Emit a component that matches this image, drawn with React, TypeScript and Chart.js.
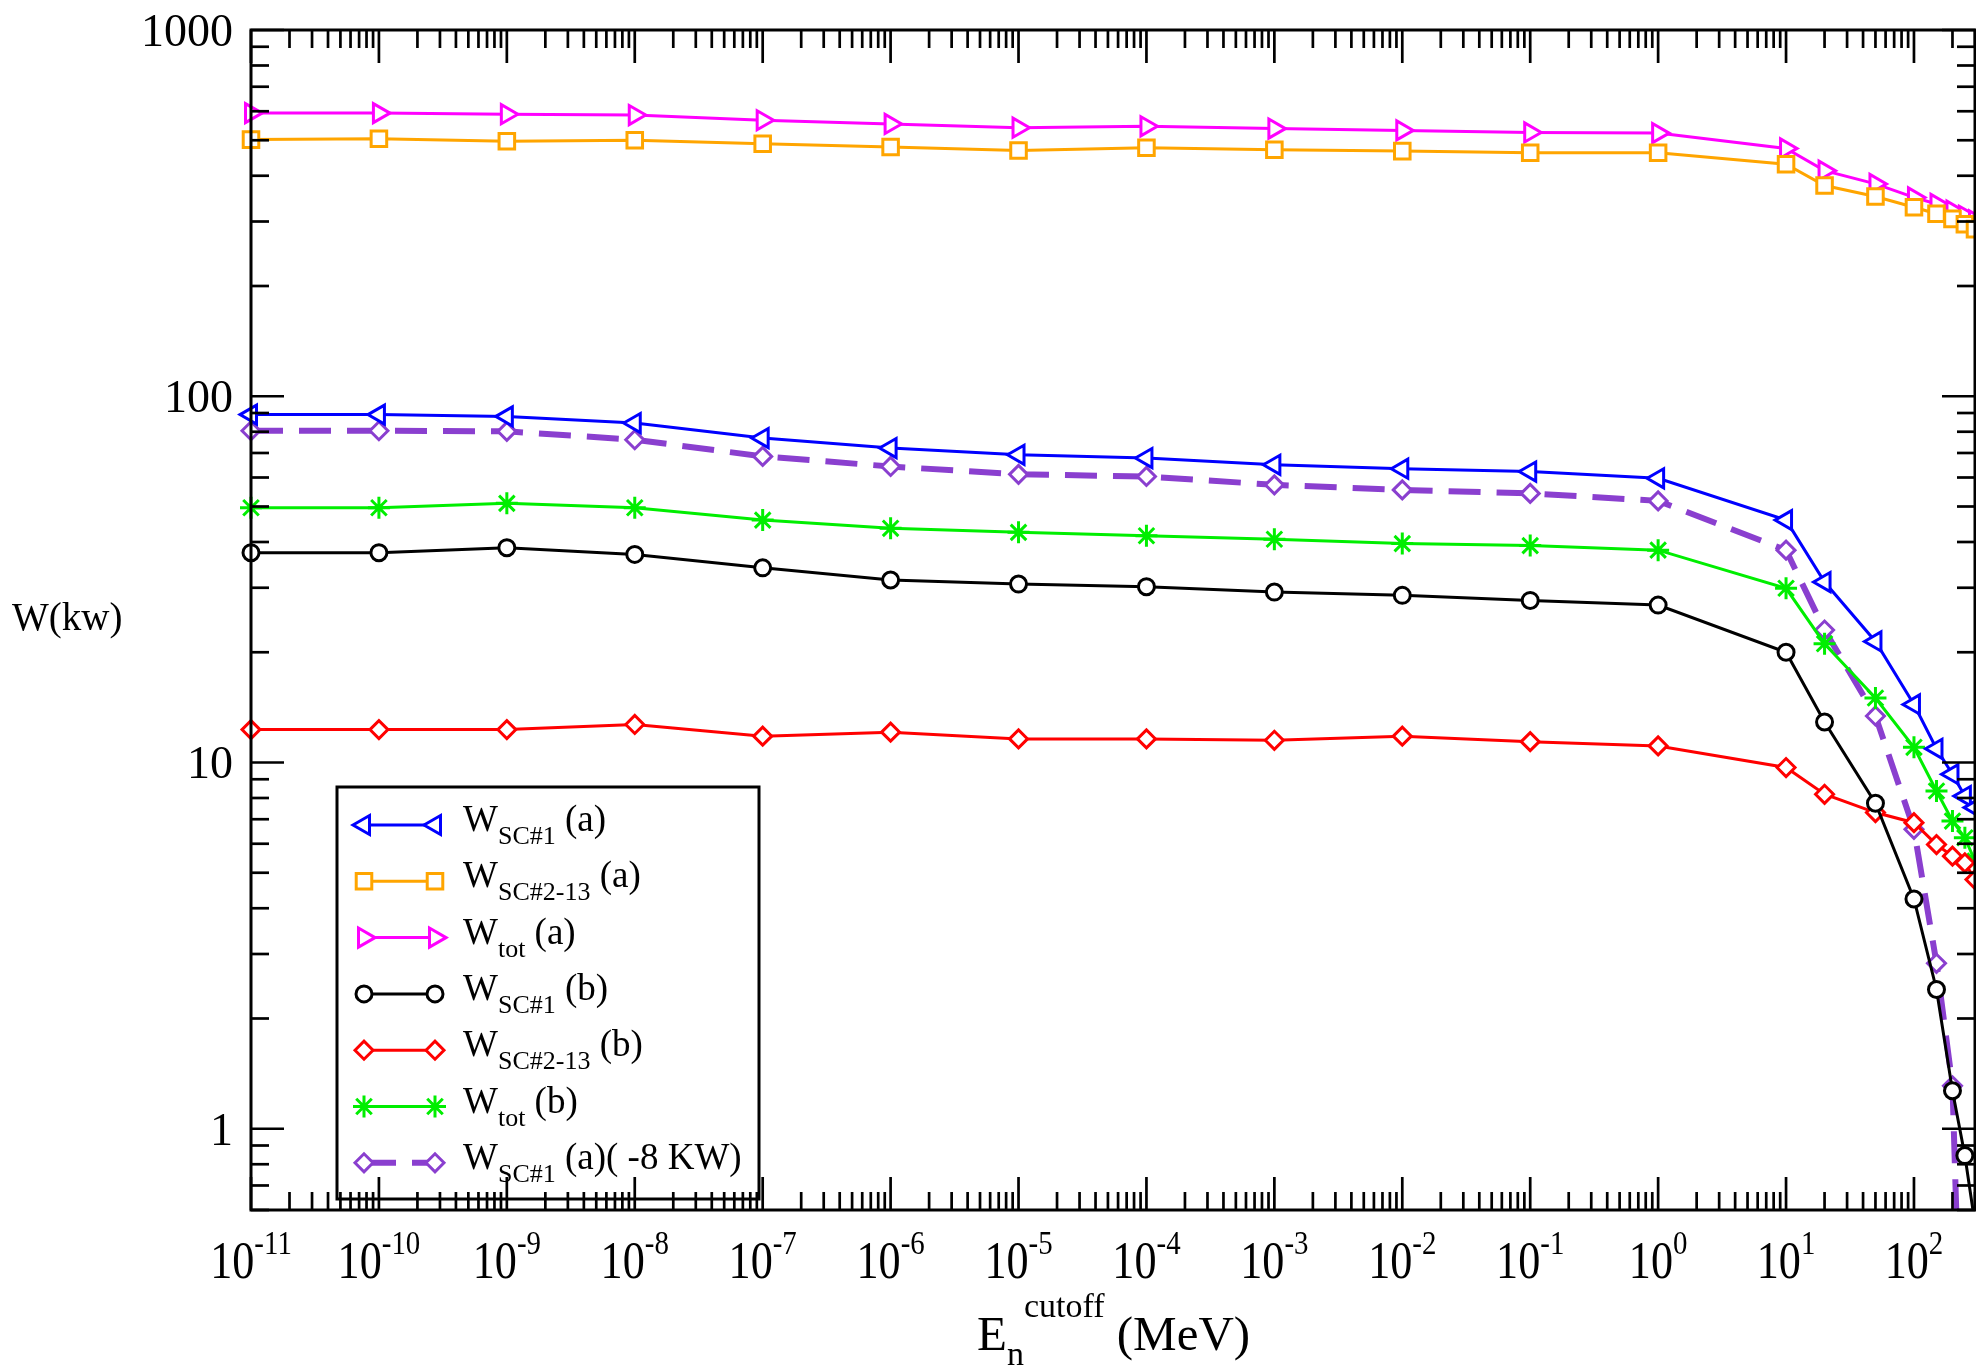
import React, { useEffect, useRef } from 'react';
import { Chart, registerables } from 'chart.js';
import { drawPoint } from 'chart.js/helpers';

Chart.register(...registerables);

// ---------- data ----------
const energies = [1e-11, 1e-10, 1e-9, 1e-8, 1e-7, 1e-6, 1e-5, 1e-4, 1e-3, 1e-2, 1e-1, 1, 10, 20, 50, 100, 150, 200, 250, 300];

const wSc1A = [89.1, 89.1, 88.1, 84.5, 76.9, 72.2, 69.2, 67.8, 65.0, 63.4, 62.3, 59.7, 45.9, 31.1, 21.4, 14.4, 10.9, 9.29, 8.1, 7.53];
const wSc213A = [502, 505, 497, 500, 489, 479, 469, 477, 471, 467, 462, 462, 430, 376, 351, 328, 315, 305, 295, 286];
const wTotA = [593, 593, 589, 586, 567, 554, 541, 546, 538, 532, 525, 523, 475, 413, 380, 349, 335, 321, 311, 302];
const wSc1B = [37.4, 37.4, 38.6, 37.0, 34.0, 31.5, 30.7, 30.2, 29.2, 28.6, 27.7, 26.9, 20.0, 12.9, 7.74, 4.24, 2.40, 1.27, 0.845, 0.55];
const wSc213B = [12.3, 12.3, 12.3, 12.7, 11.8, 12.1, 11.6, 11.6, 11.5, 11.8, 11.4, 11.1, 9.69, 8.19, 7.3, 6.85, 5.97, 5.55, 5.32, 4.79];
const wTotB = [49.6, 49.6, 51.0, 49.6, 45.9, 43.6, 42.5, 41.6, 40.7, 39.6, 39.1, 38.0, 29.9, 21.1, 15.0, 11.0, 8.36, 6.92, 6.23, 5.38];
const wSc1AMinus8 = [80.5, 80.5, 80.2, 76.1, 68.5, 64.3, 61.2, 60.4, 57.3, 55.5, 54.3, 51.8, 38.0, 23.0, 13.4, 6.57, 2.83, 1.31, 0.1, null];

const xTickExponents = [-11, -10, -9, -8, -7, -6, -5, -4, -3, -2, -1, 0, 1, 2];
const yTickValues = [1, 10, 100, 1000];
const yTickLabels = ['1', '10', '100', '1000'];

const legendSubs = ['SC#1', 'SC#2-13', 'tot', 'SC#1', 'SC#2-13', 'tot', 'SC#1'];
const legendSuffixes = [' (a)', ' (a)', ' (a)', ' (b)', ' (b)', ' (b)', ' (a)( -8 KW)'];

const yTitle = 'W(kw)';
const xTitleMain = 'E';
const xTitleSub = 'n';
const xTitleSup = 'cutoff';
const xTitleUnit = ' (MeV)';

// ---------- styles ----------
const SERIF = "'Liberation Serif', 'Times New Roman', Times, serif";
const PURPLE = '#8a3fcf';

type SeriesStyle = { color: string; pointStyle: string; radius: number; rotation: number; dash?: number[]; width: number };
const styles: SeriesStyle[] = [
  { color: '#0000ff', pointStyle: 'triangle', radius: 11, rotation: 270, width: 3 },
  { color: '#ffa500', pointStyle: 'rect', radius: 11, rotation: 0, width: 3 },
  { color: '#ff00ff', pointStyle: 'triangle', radius: 11, rotation: 90, width: 3 },
  { color: '#000000', pointStyle: 'circle', radius: 8, rotation: 0, width: 3 },
  { color: '#ff0000', pointStyle: 'rectRot', radius: 9, rotation: 0, width: 3 },
  { color: '#00ee00', pointStyle: 'star', radius: 11, rotation: 0, width: 3 },
  { color: PURPLE, pointStyle: 'rectRot', radius: 9, rotation: 0, width: 6, dash: [32, 16] },
];
const seriesValues = [wSc1A, wSc213A, wTotA, wSc1B, wSc213B, wTotB, wSc1AMinus8];

type Run = { text: string; size: number; dy: number };
function runsWidth(ctx: CanvasRenderingContext2D, runs: Run[]) {
  let w = 0;
  for (const r of runs) {
    ctx.font = `${r.size}px ${SERIF}`;
    w += ctx.measureText(r.text).width;
  }
  return w;
}
function drawRuns(ctx: CanvasRenderingContext2D, x: number, y: number, runs: Run[]) {
  for (const r of runs) {
    ctx.font = `${r.size}px ${SERIF}`;
    ctx.fillText(r.text, x, y + r.dy);
    x += ctx.measureText(r.text).width;
  }
  return x;
}

const xmgracePlugin = {
  id: 'xmgrace',
  afterDatasetsDraw(chart: any) {
    const { ctx, chartArea: a, scales } = chart;
    const xs = scales.x;
    const ys = scales.y;
    ctx.save();
    ctx.textAlign = 'left';
    ctx.textBaseline = 'alphabetic';

    // legend box
    const lx = 337, ly = 787, lw = 422, lh = 412;
    ctx.fillStyle = '#fff';
    ctx.fillRect(lx, ly, lw, lh);
    ctx.strokeStyle = '#000';
    ctx.lineWidth = 3;
    ctx.strokeRect(lx, ly, lw, lh);
    for (let i = 0; i < styles.length; i++) {
      const s = styles[i];
      const rowY = 825 + i * 56.3;
      ctx.save();
      ctx.strokeStyle = s.color;
      ctx.lineWidth = s.width;
      ctx.setLineDash(s.dash || []);
      ctx.beginPath();
      ctx.moveTo(364, rowY);
      ctx.lineTo(435, rowY);
      ctx.stroke();
      ctx.setLineDash([]);
      ctx.lineWidth = 3;
      ctx.fillStyle = '#fff';
      for (const px of [364, 435]) {
        drawPoint(ctx, { pointStyle: s.pointStyle as any, rotation: s.rotation, radius: s.radius, borderWidth: 3 }, px, rowY);
      }
      ctx.restore();
      ctx.fillStyle = '#000';
      drawRuns(ctx, 463, rowY, [
        { text: 'W', size: 37, dy: 6 },
        { text: legendSubs[i], size: 26, dy: 19 },
        { text: legendSuffixes[i], size: 37, dy: 6 },
      ]);
    }

    // frame
    ctx.strokeStyle = '#000';
    ctx.lineWidth = 3;
    ctx.strokeRect(a.left, a.top, a.right - a.left, a.bottom - a.top);

    // ticks
    ctx.lineWidth = 2.7;
    const line = (x1: number, y1: number, x2: number, y2: number) => {
      ctx.beginPath();
      ctx.moveTo(x1, y1);
      ctx.lineTo(x2, y2);
      ctx.stroke();
    };
    for (let e = -12; e <= 3; e++) {
      for (let m = 1; m <= 9; m++) {
        const v = m * Math.pow(10, e);
        if (v < xs.min * 0.999 || v > xs.max * 1.001) continue;
        const px = xs.getPixelForValue(v);
        const len = m === 1 ? 33 : 18;
        line(px, a.bottom, px, a.bottom - len);
        line(px, a.top, px, a.top + len);
      }
      for (let m = 1; m <= 9; m++) {
        const v = m * Math.pow(10, e);
        if (v < ys.min * 0.999 || v > ys.max * 1.001) continue;
        const py = ys.getPixelForValue(v);
        const len = m === 1 ? 33 : 18;
        line(a.left, py, a.left + len, py);
        line(a.right, py, a.right - len, py);
      }
    }

    // y tick labels
    ctx.fillStyle = '#000';
    ctx.textAlign = 'right';
    ctx.font = `46px ${SERIF}`;
    yTickValues.forEach((v, i) => {
      const py = ys.getPixelForValue(v);
      ctx.fillText(yTickLabels[i], 233, py + 16);
    });
    ctx.textAlign = 'left';

    // x tick labels (slightly condensed, like the original)
    const squeeze = 0.85;
    xTickExponents.forEach((e) => {
      const px = xs.getPixelForValue(Math.pow(10, e));
      const runs: Run[] = [
        { text: '10', size: 52, dy: 0 },
        { text: String(e), size: 34, dy: -24 },
      ];
      const w = runsWidth(ctx, runs) * squeeze;
      ctx.save();
      ctx.translate(px - w / 2, 1278);
      ctx.scale(squeeze, 1);
      drawRuns(ctx, 0, 0, runs);
      ctx.restore();
    });

    // axis titles
    drawRuns(ctx, 12, 630, [{ text: yTitle, size: 39, dy: 0 }]);
    drawRuns(ctx, 977, 1350, [
      { text: xTitleMain, size: 49, dy: 0 },
      { text: xTitleSub, size: 34, dy: 15 },
      { text: xTitleSup, size: 34, dy: -33 },
      { text: xTitleUnit, size: 49, dy: 0 },
    ]);
    ctx.restore();
  },
};

export default function App() {
  const ref = useRef<HTMLCanvasElement | null>(null);
  useEffect(() => {
    document.body.style.margin = '0';
    document.body.style.overflow = 'hidden';
    const canvas = ref.current;
    if (!canvas) return;
    const datasets = seriesValues.map((vals, i) => {
      const s = styles[i];
      return {
        label: legendSubs[i] + legendSuffixes[i],
        data: energies.map((x, j) => ({ x, y: vals[j] })),
        borderColor: s.color,
        backgroundColor: '#fff',
        borderWidth: s.width,
        borderDash: s.dash || [],
        pointStyle: s.pointStyle,
        pointRadius: s.radius,
        pointRotation: s.rotation,
        pointBorderWidth: 3,
        pointBorderColor: s.color,
        pointBackgroundColor: '#fff',
        tension: 0,
        spanGaps: false,
        clip: { left: 14, top: 14, right: 14, bottom: 0 },
      };
    });
    const chart = new Chart(canvas, {
      type: 'line',
      data: { datasets: datasets as any },
      options: {
        animation: false,
        responsive: false,
        devicePixelRatio: 1,
        parsing: false as any,
        layout: { autoPadding: false, padding: { top: 30, right: 1, left: 0, bottom: 0 } },
        plugins: { legend: { display: false }, tooltip: { enabled: false } },
        scales: {
          x: {
            type: 'logarithmic',
            min: 1e-11,
            max: 300,
            ticks: { display: false },
            grid: { display: false },
            border: { display: false },
            afterFit: (s: any) => { s.height = 156; },
          },
          y: {
            type: 'logarithmic',
            min: 0.6,
            max: 1000,
            ticks: { display: false },
            grid: { display: false },
            border: { display: false },
            afterFit: (s: any) => { s.width = 251; },
          },
        },
      },
      plugins: [xmgracePlugin],
    });
    return () => chart.destroy();
  }, []);
  return (
    <div style={{ width: 1976, height: 1366, background: '#fff' }}>
      <canvas ref={ref} width={1976} height={1366} style={{ display: 'block' }} />
    </div>
  );
}
